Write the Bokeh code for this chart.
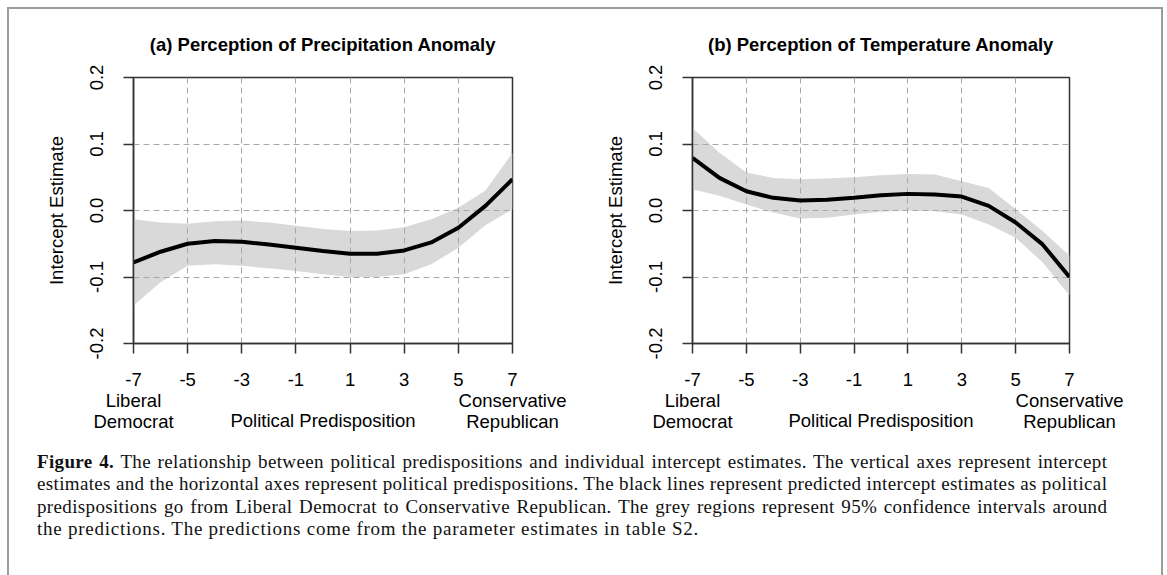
from bokeh.plotting import figure
from bokeh.models import Range1d, FixedTicker, Div
from bokeh.layouts import row, column
from bokeh.embed import file_html
from bokeh.resources import INLINE

# ---------------- data ----------------
predisposition = [-7, -6, -5, -4, -3, -2, -1, 0, 1, 2, 3, 4, 5, 6, 7]

precip_fit = [-0.078, -0.062, -0.050, -0.046, -0.047, -0.051, -0.056, -0.061,
              -0.065, -0.065, -0.060, -0.048, -0.026, 0.007, 0.047]
precip_lower = [-0.143, -0.108, -0.083, -0.081, -0.083, -0.087, -0.091, -0.096,
                -0.100, -0.100, -0.096, -0.081, -0.056, -0.022, 0.002]
precip_upper = [-0.013, -0.018, -0.020, -0.016, -0.015, -0.018, -0.023, -0.028,
                -0.031, -0.030, -0.025, -0.013, 0.004, 0.030, 0.087]

temp_fit = [0.079, 0.049, 0.029, 0.019, 0.015, 0.016, 0.019, 0.023,
            0.025, 0.024, 0.021, 0.007, -0.018, -0.051, -0.100]
temp_lower = [0.032, 0.022, 0.009, -0.003, -0.012, -0.011, -0.006, -0.002,
              0.000, -0.001, -0.006, -0.021, -0.041, -0.078, -0.128]
temp_upper = [0.124, 0.087, 0.057, 0.049, 0.047, 0.048, 0.050, 0.053,
              0.055, 0.054, 0.044, 0.034, 0.002, -0.031, -0.068]

x_ticks = [-7, -5, -3, -1, 1, 3, 5, 7]
x_tick_text = ["-7\nLiberal\nDemocrat", "-5", "-3", "-1", "1", "3", "5",
               "7\nConservative\nRepublican"]
x_grid = [-5, -3, -1, 1, 3, 5]
y_ticks = [-0.2, -0.1, 0.0, 0.1, 0.2]
y_tick_text = ["-0.2", "-0.1", "0.0", "0.1", "0.2"]
y_grid = [-0.1, 0.0, 0.1]

titles = ["(a) Perception of Precipitation Anomaly",
          "(b) Perception of Temperature Anomaly"]
x_title = "Political Predisposition"
y_title = "Intercept Estimate"

caption_lines = [
    "<b>Figure 4.</b> The relationship between political predispositions and individual intercept estimates. The vertical axes represent intercept",
    "estimates and the horizontal axes represent political predispositions. The black lines represent predicted intercept estimates as political",
    "predispositions go from Liberal Democrat to Conservative Republican. The grey regions represent 95% confidence intervals around",
    "the predictions. The predictions come from the parameter estimates in table S2.",
]

FONT = "Liberation Sans"
AX = "#333333"


def make_panel(title, fit, lower, upper, width, b_left, b_right):
    p = figure(width=width, height=435,
               x_range=Range1d(-7, 7), y_range=Range1d(-0.2, 0.2),
               output_backend="svg", toolbar_location=None,
               min_border_left=b_left, min_border_right=b_right,
               min_border_top=67, min_border_bottom=101,
               background_fill_color="white", border_fill_color="white")
    p.title.text = title
    p.title.text_font = FONT
    p.title.text_font_size = "18.5px"
    p.title.text_font_style = "bold"
    p.title.text_color = "black"
    p.title.align = "center"
    p.title.standoff = 45

    p.varea(x=predisposition, y1=lower, y2=upper, fill_color="#d9d9d9",
            fill_alpha=1.0, level="image")
    p.line(x=predisposition, y=fit, line_color="black", line_width=4)

    p.outline_line_color = AX
    p.outline_line_width = 1.5

    p.xaxis.ticker = FixedTicker(ticks=x_ticks)
    p.xaxis.major_label_overrides = dict(zip(x_ticks, x_tick_text))
    p.yaxis.ticker = FixedTicker(ticks=y_ticks)
    p.yaxis.major_label_overrides = dict(zip(y_ticks, y_tick_text))
    p.yaxis.major_label_orientation = "vertical"

    for ax in (p.xaxis, p.yaxis):
        ax.axis_line_color = AX
        ax.axis_line_width = 1.5
        ax.major_tick_line_color = AX
        ax.major_tick_line_width = 1.5
        ax.major_tick_out = 10
        ax.major_tick_in = 0
        ax.minor_tick_line_color = None
        ax.major_label_text_font = FONT
        ax.major_label_text_font_size = "18.5px"
        ax.major_label_text_color = "black"
        ax.major_label_text_line_height = 1.0
        ax.axis_label_text_font = FONT
        ax.axis_label_text_font_size = "18.5px"
        ax.axis_label_text_font_style = "normal"
        ax.axis_label_text_color = "black"

    p.xaxis.major_label_standoff = 15
    p.yaxis.major_label_standoff = 21
    p.xaxis.axis_label = x_title
    p.xaxis.axis_label_standoff = -25
    p.yaxis.axis_label = y_title
    p.yaxis.axis_label_standoff = 20

    p.xgrid.ticker = FixedTicker(ticks=x_grid)
    p.ygrid.ticker = FixedTicker(ticks=y_grid)
    for g in (p.xgrid, p.ygrid):
        g.grid_line_color = "#a8a8a8"
        g.grid_line_dash = "6 4"
        g.grid_line_width = 1
    return p


p1 = make_panel(titles[0], precip_fit, precip_lower, precip_upper, 570, 124, 67)
p2 = make_panel(titles[1], temp_fit, temp_lower, temp_upper, 582, 113, 92)

line_html = []
for i, t in enumerate(caption_lines):
    if i < len(caption_lines) - 1:
        st = "text-align:justify;text-align-last:justify;white-space:nowrap;"
    else:
        st = "text-align:left;white-space:nowrap;letter-spacing:0.75px;"
    line_html.append(f'<div style="{st}">{t}</div>')

caption_html = (
    '<div style="font-family:\'Liberation Serif\',serif;font-size:19px;'
    'letter-spacing:0.35px;line-height:22.3px;color:#111;'
    'padding:2px 13px 0 23px;">'
    + "".join(line_html) + "</div>"
)
caption = Div(text=caption_html, width=1152, height=121)

root = column(row(p1, p2), caption, width=1156, margin=(7, 0, 0, 7),
              styles={"border-top": "2px solid #9c9c9c",
                      "border-left": "2px solid #9c9c9c",
                      "border-right": "2px solid #9c9c9c"})

open("out.html", "w").write(file_html(root, INLINE))
